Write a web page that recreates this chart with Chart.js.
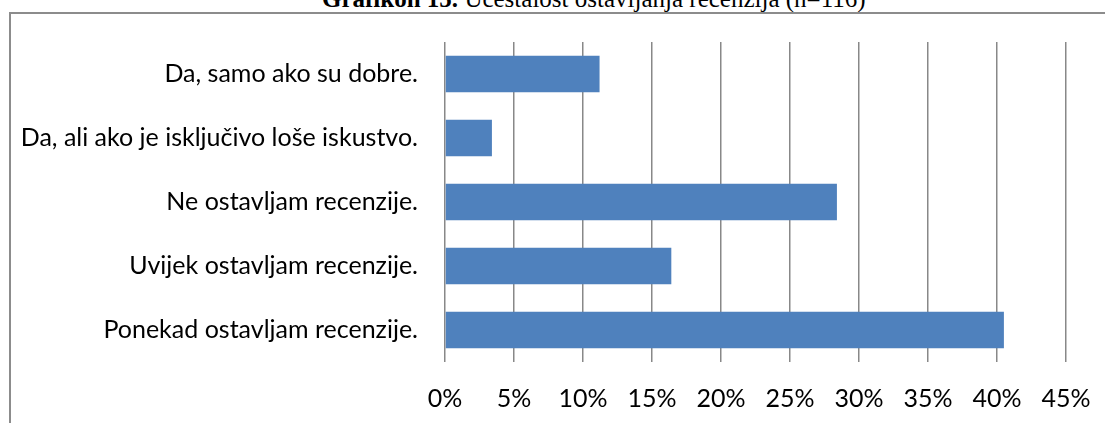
<!DOCTYPE html>
<html>
<head>
<meta charset="utf-8">
<script src="https://cdn.jsdelivr.net/npm/chart.js@4"></script>
<style>
  body { margin: 0; background: #fff; overflow: hidden; }
  #wrap { position: relative; width: 1105px; height: 423px; overflow: hidden; }
  #frame {
    position: absolute; left: 9px; top: 12px; width: 1200px; height: 500px;
    border: 2px solid #8c8c8c; box-sizing: border-box;
  }
  #title {
    position: absolute; left: 322px; top: -14px; white-space: nowrap;
    font-family: "Liberation Serif", serif; font-size: 25px; line-height: 25px; color: #000;
  }
  #myChart { position: absolute; left: 0; top: 0; }
</style>
</head>
<body>
<div id="wrap">
  <div id="title"><b>Grafikon 15.</b> Učestalost ostavljanja recenzija (n=116)</div>
  <div id="frame"></div>
  <canvas id="myChart" width="1105" height="423"></canvas>
</div>
<script>
    const labels = [
        'Da, samo ako su dobre.',
        'Da, ali ako je isključivo loše iskustvo.',
        'Ne ostavljam recenzije.',
        'Uvijek ostavljam recenzije.',
        'Ponekad ostavljam recenzije.',
    ];
    // percentages of respondents (n=116)
    const values = [11.2, 3.4, 28.4, 16.4, 40.5];
    const xTicks = [0, 5, 10, 15, 20, 25, 30, 35, 40, 45];

    const font = { family: 'Lato', size: 25 };

    const data = {
        labels: labels,
        datasets: [{
            backgroundColor: '#4f81bd',
            borderWidth: 0,
            categoryPercentage: 1,
            barPercentage: 0.57,
            data: values,
        }]
    };
    const config = {
        type: 'bar',
        data: data,
        options: {
            indexAxis: 'y',
            responsive: false,
            animation: false,
            layout: {
                padding: { top: 42, right: 39, bottom: 0, left: 0 }
            },
            plugins: {
                legend: { display: false },
                tooltip: { enabled: false },
            },
            scales: {
                x: {
                    min: xTicks[0],
                    max: xTicks[xTicks.length - 1],
                    afterBuildTicks: function(scale) {
                        scale.ticks = xTicks.map(v => ({ value: v }));
                    },
                    afterFit: function(scale) {
                        scale.height = 61;
                        scale.paddingLeft = 0;
                        scale.paddingRight = 0;
                    },
                    grid: { color: '#888', lineWidth: 1.5, drawTicks: false },
                    border: { display: false },
                    ticks: {
                        color: '#000',
                        font: font,
                        padding: 22,
                        maxRotation: 0,
                        callback: v => v + '%',
                    }
                },
                y: {
                    afterFit: function(scale) { scale.width = 445; },
                    grid: { display: false, drawTicks: false },
                    border: { display: false },
                    ticks: {
                        color: '#000',
                        font: font,
                        padding: 27,
                    }
                }
            }
        },
    };
    var myChart = new Chart(
        document.getElementById('myChart'),
        config
    );
</script>
</body>
</html>
